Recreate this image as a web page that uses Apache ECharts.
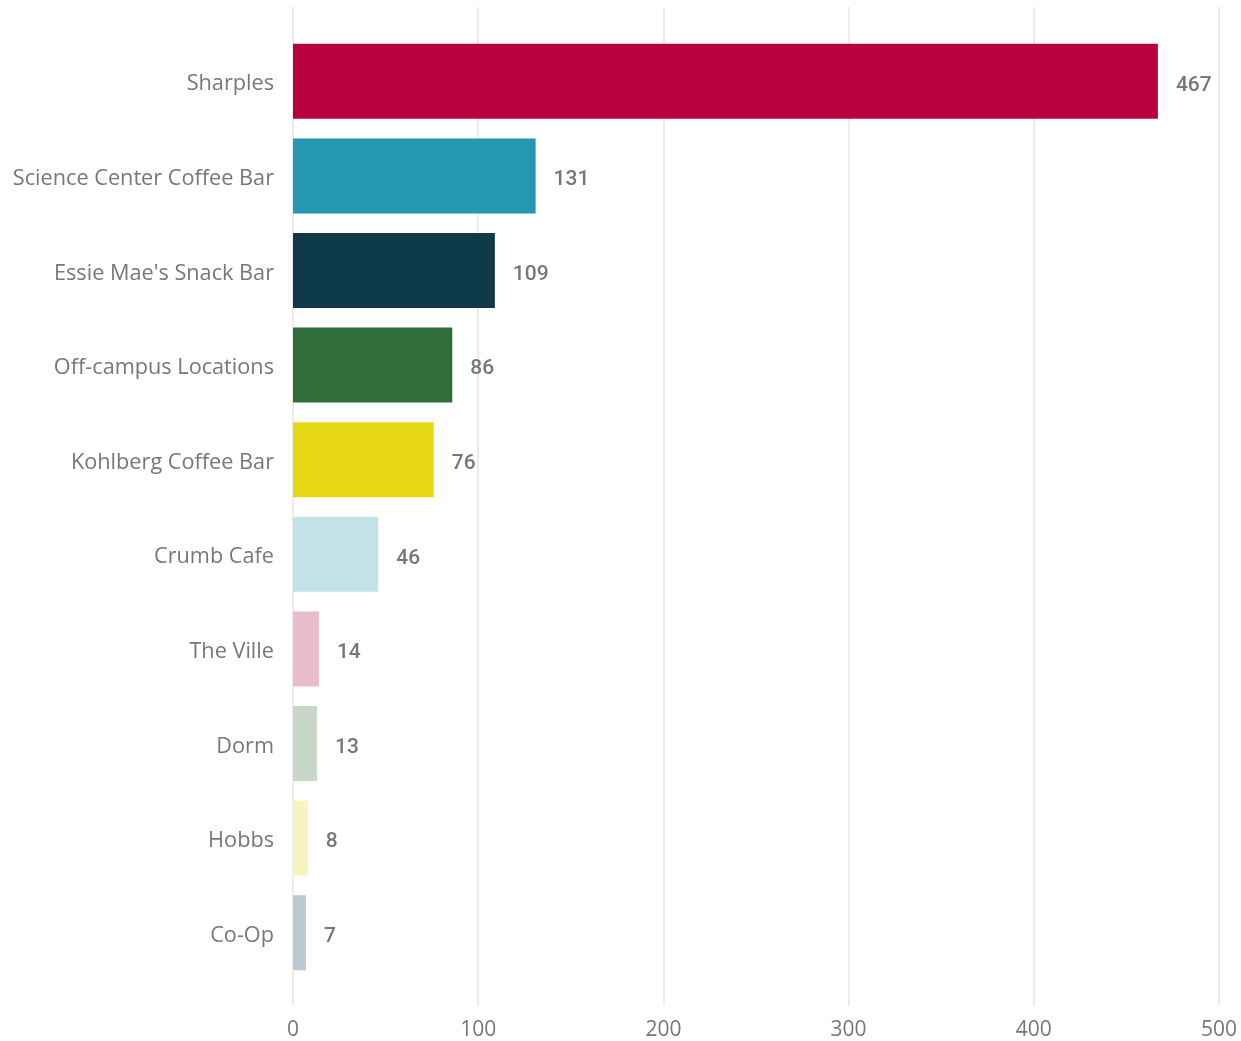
<!DOCTYPE html>
<html>
<head>
<meta charset="utf-8">
<script src="https://cdn.jsdelivr.net/npm/echarts@6/dist/echarts.min.js"></script>
<style>html,body{margin:0;padding:0;background:#fff;}#c{width:1241px;height:1041px;}</style>
</head>
<body>
<div id="c"></div>
<script>
const categories = ["Sharples","Science Center Coffee Bar","Essie Mae's Snack Bar","Off-campus Locations","Kohlberg Coffee Bar","Crumb Cafe","The Ville","Dorm","Hobbs","Co-Op"];
const values = [467,131,109,86,76,46,14,13,8,7];
const colors = ["#B80041","#2398B0","#0D3949","#2F6E38","#E5D713","#C3E2E7","#EABBCD","#C8D8C8","#F7F4C2","#BCCBD1"];
const xTicks = [0,100,200,300,400,500];

const chart = echarts.init(document.getElementById('c'));
chart.setOption({
  animation: false,
  backgroundColor: '#fff',
  grid: [
    {left: 293, right: 22, top: 7, bottom: 33},
    {left: 293, right: 22, top: 34, bottom: 61}
  ],
  xAxis: [
    {gridIndex: 0, type: 'value', min: xTicks[0], max: xTicks[xTicks.length-1], interval: 100,
     axisLine: {show: false}, axisTick: {show: false},
     splitLine: {show: true, lineStyle: {color: '#e6e6e6', width: 1.5}},
     axisLabel: {color: '#777', fontSize: 21, fontFamily: 'Open Sans', margin: 14}},
    {gridIndex: 1, type: 'value', min: xTicks[0], max: xTicks[xTicks.length-1], interval: 100, show: false,
     splitLine: {show: false}}
  ],
  yAxis: [
    {gridIndex: 0, type: 'category', data: categories, show: false},
    {gridIndex: 1, type: 'category', data: categories, inverse: true,
     axisLine: {show: false}, axisTick: {show: false},
     axisLabel: {color: '#777', fontSize: 21.7, fontFamily: 'Open Sans', margin: 19,
       formatter: v => '{a|' + v + '}', rich: {a: {color: '#777', fontSize: 21.7, fontFamily: 'Open Sans', padding: [6, 0, 0, 0]}}}}
  ],
  series: [{
    type: 'bar', xAxisIndex: 1, yAxisIndex: 1,
    data: values.map((v, i) => ({value: v, itemStyle: {color: colors[i]}})),
    barWidth: 75,
    label: {show: true, position: 'right', distance: 18, offset: [0, 4], color: '#777', fontSize: 21, fontWeight: 500, fontFamily: 'Roboto'}
  }]
});
</script>
</body>
</html>
